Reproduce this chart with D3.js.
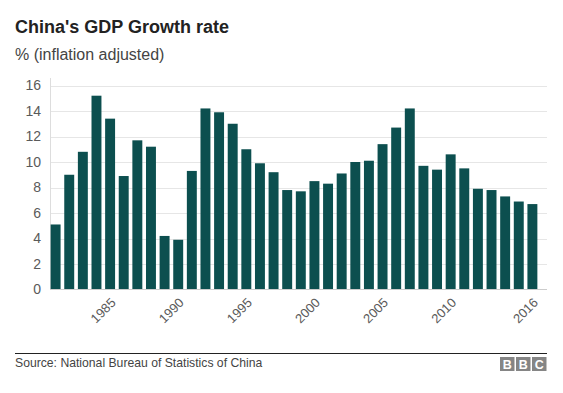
<!DOCTYPE html>
<html>
<head>
<meta charset="utf-8">
<script src="https://cdn.jsdelivr.net/npm/d3@7"></script>
<style>
body { margin: 0; background: #fff; }
svg { font-family: Arial, "Liberation Sans", sans-serif; display: block; }
</style>
</head>
<body>
<svg></svg>
<script>
const width = 563;
const height = 393;

const years = d3.range(1981, 2017);
const growth = [5.1, 9.0, 10.8, 15.2, 13.4, 8.9, 11.7, 11.2, 4.2, 3.9,
                9.3, 14.2, 13.9, 13.0, 11.0, 9.9, 9.2, 7.8, 7.7, 8.5,
                8.3, 9.1, 10.0, 10.1, 11.4, 12.7, 14.2, 9.7, 9.4, 10.6,
                9.5, 7.9, 7.8, 7.3, 6.9, 6.7];
const yTicks = [0, 2, 4, 6, 8, 10, 12, 14, 16];
const xTickLabels = [1985, 1990, 1995, 2000, 2005, 2010, 2016];

const data = years.map((y, i) => ({ year: y, value: growth[i] }));

let svg = d3.select("svg")
            .attr("width", width)
            .attr("height", height)

//scales
let xScale = d3.scaleBand()
            .domain(years)
            .range([49, 539])
            .paddingInner(0.27)
            .paddingOuter(0.12);
let yScale = d3.scaleLinear()
            .domain([0, 16])
            .range([289.5, 85.5]);

//gridlines
svg.append("g")
    .selectAll("line")
    .data(yTicks.filter(d => d > 0))
    .enter()
    .append("line")
        .attr("x1", 50)
        .attr("x2", 547)
        .attr("y1", d => Math.round(yScale(d)) + 0.5)
        .attr("y2", d => Math.round(yScale(d)) + 0.5)
        .attr("stroke", "#e6e6e6")

//left axis line
svg.append("line")
    .attr("x1", 50.5).attr("x2", 50.5)
    .attr("y1", 78).attr("y2", 290)
    .attr("stroke", "#dddddd")

//bars
svg.selectAll("rect.bar")
    .data(data)
    .enter()
    .append("rect")
        .attr("class", "bar")
        .attr("x", d => xScale(d.year))
        .attr("y", d => yScale(d.value))
        .attr("width", xScale.bandwidth())
        .attr("height", d => yScale(0) - yScale(d.value))
        .attr("fill", "#0c4f4f")

//baseline
svg.append("line")
    .attr("x1", 50).attr("x2", 547)
    .attr("y1", 289.5).attr("y2", 289.5)
    .attr("stroke", "#cccccc")

//y axis labels
let yAxis = d3.axisLeft(yScale)
            .tickValues(yTicks)
            .tickSize(0)
            .tickPadding(0);
let yg = svg.append("g")
    .attr("transform", "translate(41, 0)")
    .call(yAxis);
yg.select(".domain").remove();
yg.selectAll("text")
    .attr("font-size", 14)
    .attr("font-family", "Arial, 'Liberation Sans', sans-serif")
    .attr("fill", "#5a5a5a");

//x axis labels
let xAxis = d3.axisBottom(xScale)
            .tickValues(xTickLabels)
            .tickSize(0)
            .tickPadding(0);
let xg = svg.append("g")
    .attr("transform", "translate(0, 297)")
    .call(xAxis);
xg.select(".domain").remove();
xg.selectAll("text")
    .attr("font-size", 13)
    .attr("font-family", "Arial, 'Liberation Sans', sans-serif")
    .attr("fill", "#5a5a5a")
    .attr("dy", "0.7em")
    .attr("text-anchor", "end")
    .attr("transform", "rotate(-45)");

//titles
svg.append("text")
    .attr("x", 15)
    .attr("y", 33)
    .attr("font-size", 18)
    .attr("font-weight", "bold")
    .attr("fill", "#222")
    .text("China's GDP Growth rate")

svg.append("text")
    .attr("x", 15)
    .attr("y", 60)
    .attr("font-size", 16)
    .attr("fill", "#444")
    .text("% (inflation adjusted)")

//footer
svg.append("line")
    .attr("x1", 15).attr("x2", 547)
    .attr("y1", 353.5).attr("y2", 353.5)
    .attr("stroke", "#222")

svg.append("text")
    .attr("x", 15)
    .attr("y", 367)
    .attr("font-size", 12.2)
    .attr("fill", "#444")
    .text("Source: National Bureau of Statistics of China")

let logo = svg.append("g").attr("transform", "translate(500, 357)");
["B", "B", "C"].forEach((ch, i) => {
    logo.append("rect")
        .attr("x", i * 16)
        .attr("width", 14.5)
        .attr("height", 14)
        .attr("fill", "#858585");
    logo.append("text")
        .attr("x", i * 16 + 7.25)
        .attr("y", 11.5)
        .attr("text-anchor", "middle")
        .attr("font-size", 12.5)
        .attr("font-weight", "bold")
        .attr("fill", "#fff")
        .text(ch);
});
</script>
</body>
</html>
